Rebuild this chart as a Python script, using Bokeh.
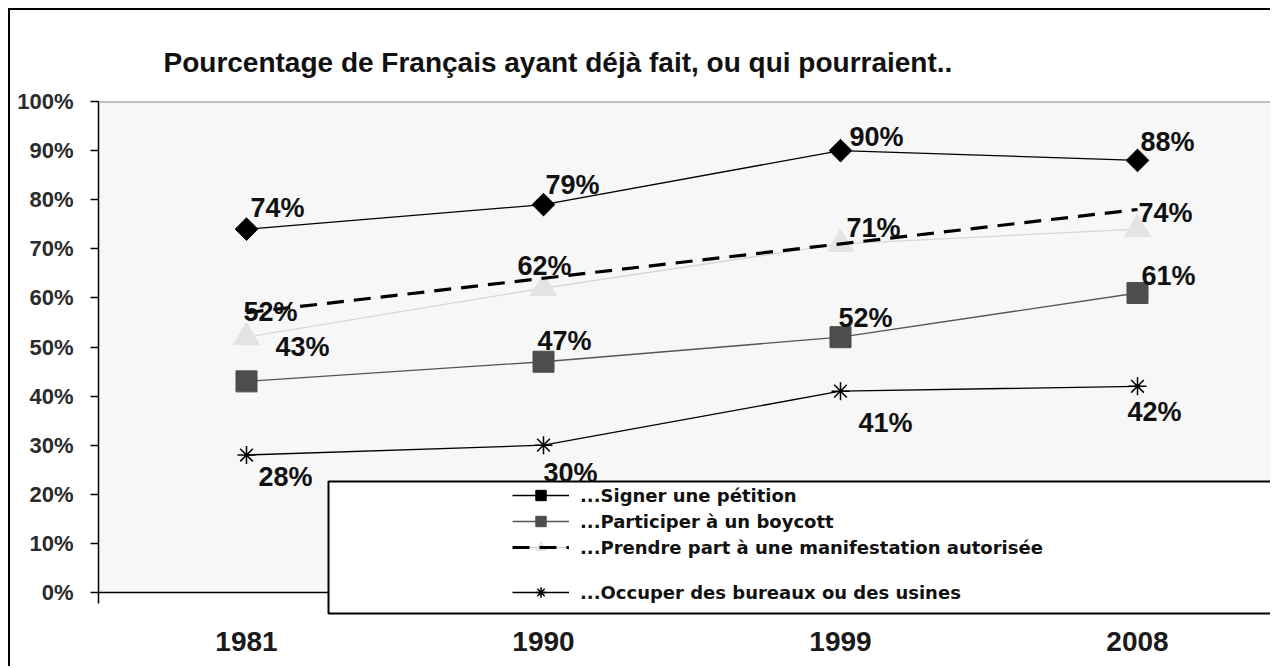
import numpy as np
from bokeh.plotting import figure
from bokeh.models import (ColumnDataSource, Range1d, FixedTicker, PrintfTickFormatter,
                          Legend, LegendItem, BoxAnnotation, Span)
from bokeh.core.properties import value
from bokeh.embed import file_html
from bokeh.resources import INLINE

# ---------------- data ----------------
years = [1981, 1990, 1999, 2008]
petition = [74, 79, 90, 88]
boycott = [43, 47, 52, 61]
manifestation = [52, 62, 71, 74]
occuper = [28, 30, 41, 42]
# hand-drawn dashed line over the "manifestation" series (end points)
trend_years = [1981, 2008]
trend_values = [57, 78]
y_ticks = [0, 10, 20, 30, 40, 50, 60, 70, 80, 90, 100]
title_text = "Pourcentage de Français ayant déjà fait, ou qui pourraient.."
legend_labels = ["...Signer une pétition",
                 "...Participer à un boycott",
                 "...Prendre part à une manifestation autorisée",
                 "...Occuper des bureaux ou des usines"]

# ---------------- layout (page pixels) ----------------
CANVAS_LEFT, CANVAS_TOP = 10, 10
CANVAS_RIGHT, CANVAS_BOTTOM = 1272, 668
FRAME_LEFT, FRAME_TOP, FRAME_BOTTOM = 98, 101, 616
X_FIRST_PX, PX_PER_YEAR = 246, 33.0
Y_ZERO_PX, PX_PER_PCT = 592, 4.91
LEG_LEFT, LEG_TOP, LEG_BOTTOM, LEG_RIGHT = 328, 481, 613, 1300

x_start = years[0] - (X_FIRST_PX - FRAME_LEFT) / PX_PER_YEAR
x_end = years[0] + (CANVAS_RIGHT - X_FIRST_PX) / PX_PER_YEAR
y_start = -(FRAME_BOTTOM - Y_ZERO_PX) / PX_PER_PCT
y_end = (Y_ZERO_PX - FRAME_TOP) / PX_PER_PCT

def px_to_x(px):
    return years[0] + (px - X_FIRST_PX) / PX_PER_YEAR

def px_to_y(py):
    return (Y_ZERO_PX - py) / PX_PER_PCT

p = figure(width=CANVAS_RIGHT - CANVAS_LEFT, height=CANVAS_BOTTOM - CANVAS_TOP,
           x_range=Range1d(x_start, x_end), y_range=Range1d(y_start, y_end),
           output_backend="svg", toolbar_location=None,
           min_border_left=FRAME_LEFT - CANVAS_LEFT, min_border_right=0,
           min_border_top=FRAME_TOP - CANVAS_TOP,
           min_border_bottom=CANVAS_BOTTOM - FRAME_BOTTOM)
p.styles = {"margin-left": "8px", "margin-top": "8px",
            "border-left": "2px solid black", "border-top": "2px solid black"}
p.background_fill_color = "white"
p.border_fill_color = "white"
p.outline_line_color = None
p.grid.visible = False

# title
p.title.text = title_text
p.title.align = "left"
p.title.offset = 65
p.title.text_font = "Liberation Sans"
p.title.text_font_size = "28px"
p.title.text_font_style = "bold"
p.title.text_color = "#111111"
p.title.standoff = 48

# axes
xa = p.xaxis[0]
xa.ticker = FixedTicker(ticks=years)
xa.axis_line_color = None
xa.major_tick_line_color = None
xa.minor_tick_line_color = None
xa.major_label_text_font = "Liberation Sans"
xa.major_label_text_font_size = "28px"
xa.major_label_text_font_style = "bold"
xa.major_label_text_color = "#1a1a1a"
xa.major_label_standoff = 9

ya = p.yaxis[0]
ya.ticker = FixedTicker(ticks=y_ticks)
ya.formatter = PrintfTickFormatter(format="%d%%")
ya.bounds = (px_to_y(603), 100)
ya.axis_line_color = "black"
ya.axis_line_width = 1.5
ya.major_tick_out = 8
ya.major_tick_in = 0
ya.major_tick_line_width = 1.5
ya.minor_tick_line_color = None
ya.major_label_text_font = "Liberation Sans"
ya.major_label_text_font_size = "22px"
ya.major_label_text_font_style = "bold"
ya.major_label_text_color = "#2b2b2b"
ya.major_label_standoff = 17

# plot area background, borders, legend box (all underneath the data)
p.add_layout(BoxAnnotation(bottom=0, top=100, fill_color="#f7f7f7", fill_alpha=1,
                           line_color=None, level="underlay"))
p.add_layout(Span(location=100, dimension="width", line_color="#8a8a8a",
                  line_width=2, level="underlay"))
p.add_layout(Span(location=0, dimension="width", line_color="black",
                  line_width=1.5, level="underlay"))
p.add_layout(BoxAnnotation(left=px_to_x(LEG_LEFT), top=px_to_y(LEG_TOP),
                           bottom=px_to_y(LEG_BOTTOM), fill_color="white", fill_alpha=1,
                           line_color=None, level="underlay"))
p.multi_line(xs=[[px_to_x(LEG_RIGHT), px_to_x(LEG_LEFT), px_to_x(LEG_LEFT), px_to_x(LEG_RIGHT)]],
             ys=[[px_to_y(LEG_TOP), px_to_y(LEG_TOP), px_to_y(LEG_BOTTOM), px_to_y(LEG_BOTTOM)]],
             line_color="black", line_width=2)

# ---------------- series ----------------
r_pet_l = p.line(years, petition, line_color="black", line_width=1.3)
r_pet_m = p.scatter(years, petition, marker="square", angle=np.pi / 4, size=16,
                    fill_color="black", line_color="black")

r_boy_l = p.line(years, boycott, line_color="#555555", line_width=1.3)
r_boy_m = p.scatter(years, boycott, marker="square", size=21,
                    fill_color="#4d4d4d", line_color="#4d4d4d")

r_man_l = p.line(years, manifestation, line_color="#d6d6d6", line_width=1.3)
r_man_m = p.scatter(years, manifestation, marker="triangle", size=26,
                    fill_color="#e3e3e3", line_color="#e3e3e3")
r_trend = p.line(trend_years, trend_values, line_color="black", line_width=3.2,
                 line_dash="17 10")

r_occ_l = p.line(years, occuper, line_color="black", line_width=1.3)
r_occ_m = p.scatter(years, occuper, marker="asterisk", size=18,
                    line_color="black", line_width=1.5)

# ---------------- value labels ----------------
label_nudges = {
    "petition": ([4, 2, 9, 3], [-21, -20, -14, -18]),
    "boycott": ([29, -6, -2, 4], [-34, -21, -19, -17]),
    "manifestation": ([-3, -26, 6, 1], [-25, -22, -16, -16]),
    "occuper": ([12, 0, 18, -10], [22, 28, 32, 26]),
}
for key, vals in [("petition", petition), ("boycott", boycott),
                  ("manifestation", manifestation), ("occuper", occuper)]:
    dx, dy = label_nudges[key]
    src = ColumnDataSource(dict(x=years, y=vals, t=[f"{v}%" for v in vals], dx=dx, dy=dy))
    p.text(x="x", y="y", text="t", x_offset="dx", y_offset="dy", source=src,
           text_font=value("Liberation Sans"), text_font_style="bold",
           text_font_size="27px", text_color="#111111",
           text_align="left", text_baseline="alphabetic")

# ---------------- legend ----------------
leg_style = dict(orientation="vertical", padding=0, margin=0, spacing=0,
                 label_height=26, glyph_height=26, glyph_width=57, label_standoff=11,
                 border_line_color=None, background_fill_alpha=0,
                 label_text_font="DejaVu Sans", label_text_font_style="bold",
                 label_text_font_size="18px", label_text_color="#111111")
leg1 = Legend(items=[
    LegendItem(label=legend_labels[0], renderers=[r_pet_l, r_pet_m]),
    LegendItem(label=legend_labels[1], renderers=[r_boy_l, r_boy_m]),
    LegendItem(label=legend_labels[2], renderers=[r_man_l, r_man_m, r_trend]),
], location=(414, 56), **leg_style)
leg2 = Legend(items=[
    LegendItem(label=legend_labels[3], renderers=[r_occ_l, r_occ_m]),
], location=(414, 11), **leg_style)
p.add_layout(leg1, "center")
p.add_layout(leg2, "center")

open("out.html", "w").write(file_html(p, INLINE))
